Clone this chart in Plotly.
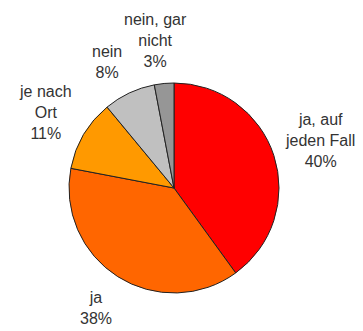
import plotly.graph_objects as go

categories = ["ja, auf jeden Fall", "ja", "je nach Ort", "nein", "nein, gar nicht"]
values = [40, 38, 11, 8, 3]
label_lines = [["ja, auf", "jeden Fall"], ["ja"], ["je nach", "Ort"], ["nein"], ["nein, gar", "nicht"]]

colors = ["#FF0000", "#FF6600", "#FF9900", "#C0C0C0", "#969696"]
# label centre positions in pixels (x, y from top) for the 3-line / 2-line blocks
label_pos = [(320, 140), (96, 308), (45, 112), (107, 62), (155, 40)]

W, H = 363, 331
fig = go.Figure()
fig.add_trace(go.Pie(
    labels=categories,
    values=values,
    sort=False,
    direction="clockwise",
    rotation=0,
    marker=dict(colors=colors, line=dict(color="#222222", width=1)),
    textinfo="none",
    hoverinfo="label+percent",
    showlegend=False,
    domain=dict(x=[69 / W, 279 / W], y=[(H - 293) / H, (H - 83) / H]),
))

for lines, v, (px, py) in zip(label_lines, values, label_pos):
    text = "<br>".join(lines + [f"{v}%"])
    fig.add_annotation(
        x=px / W, y=1 - py / H, xref="paper", yref="paper",
        text=text, showarrow=False, align="center",
        xanchor="center", yanchor="middle",
        font=dict(family="Liberation Sans, Arial, sans-serif", size=16, color="#333333"),
    )

fig.update_layout(
    width=W, height=H,
    margin=dict(l=0, r=0, t=0, b=0),
    paper_bgcolor="white", plot_bgcolor="white",
)
fig.write_html("out.html")
